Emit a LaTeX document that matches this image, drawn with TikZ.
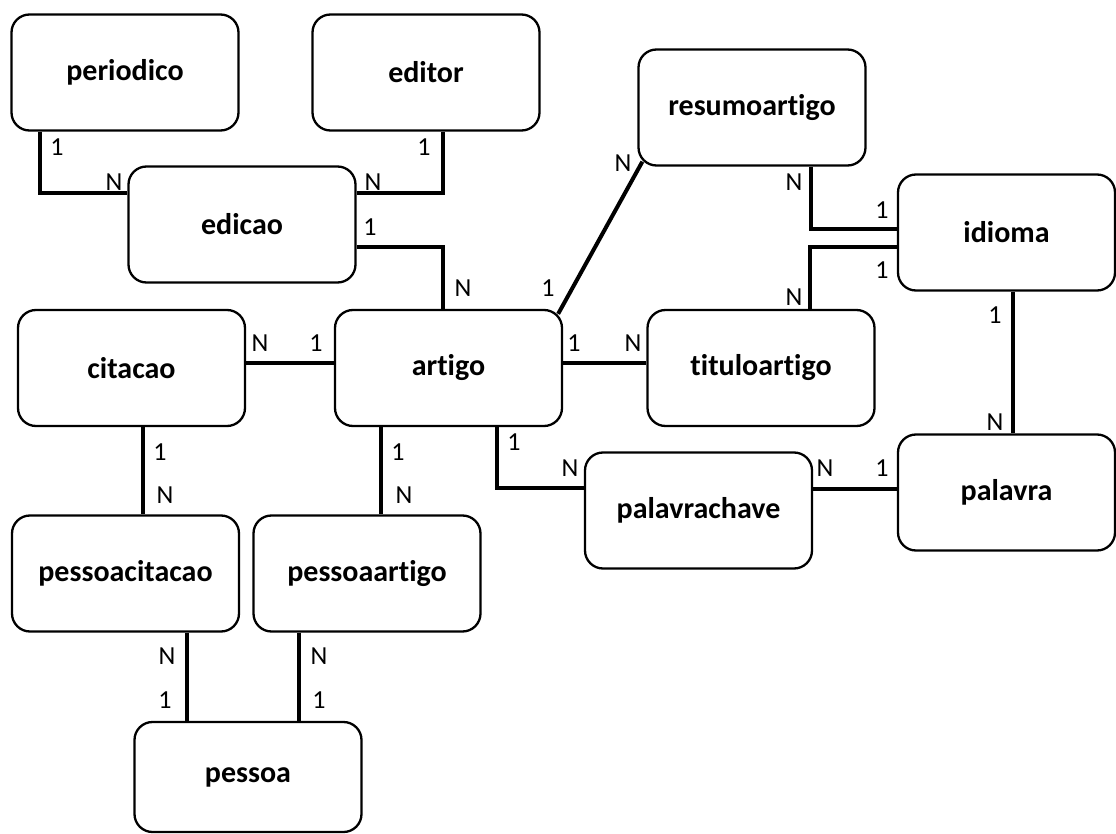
\documentclass[tikz,border=0pt]{standalone}
\usepackage{fontspec}
\setmainfont{Carlito}[Ligatures={NoCommon,NoDiscretionary}]
\usetikzlibrary{positioning}
\usetikzlibrary{calc}

\begin{document}
\begin{tikzpicture}[
  x=1pt, y=-1pt,
  ent/.style={
    rectangle,
    rounded corners=18pt,
    draw=black,
    line width=2.3pt,
    fill=white,
    minimum width=227pt,
    minimum height=116pt,
    inner sep=0pt,
    align=center,
    font=\fontsize{30}{32}\selectfont\bfseries
  },
  rel/.style={line width=4pt, black},
  card/.style={inner sep=0pt, font=\fontsize{26}{28}\selectfont}
]
\useasboundingbox (0,0) rectangle (1116,834);
% entities
\node[ent] (periodico)     at (125, 72.5)  {periodico};
\node[ent] (editor)        at (426, 72.5)  {editor};
\node[ent] (edicao)        at (242, 224.5) {edicao};
\node[ent] (resumoartigo)  at (752, 107.5) {resumoartigo};
\node[ent, minimum width=217pt] (idioma) at (1006.5, 232.5) {idioma};
\node[ent] (citacao)       at (131.5, 368) {citacao};
\node[ent] (artigo)        at (448.5, 368) {artigo};
\node[ent] (tituloartigo)  at (761, 368)   {tituloartigo};
\node[ent] (palavrachave)  at (698.5, 510.5) {palavrachave};
\node[ent, minimum width=217pt] (palavra) at (1006.5, 492.5) {palavra};
\node[ent] (pessoacitacao) at (125.5, 573.5) {pessoacitacao};
\node[ent] (pessoaartigo)  at (367, 573.5) {pessoaartigo};
\node[ent, minimum height=110pt] (pessoa) at (248, 777) {pessoa};
% relationships
\draw[rel] ([xshift=-85pt]periodico.south) |- ([yshift=31.5pt]edicao.west);
\draw[rel] ([xshift=17pt]editor.south) |- ([yshift=31.5pt]edicao.east);
\draw[rel] ([yshift=-22.5pt]edicao.east) -| ([xshift=-5.5pt]artigo.north);
\draw[rel] ([xshift=-5pt,yshift=-5pt]artigo.north east) -- ([xshift=5pt,yshift=5pt]resumoartigo.south west);
\draw[rel] ([xshift=58.5pt]resumoartigo.south) |- ([yshift=3.5pt]idioma.west);
\draw[rel] ([xshift=49pt]tituloartigo.north) |- ([yshift=-14.5pt]idioma.west);
\draw[rel] ([xshift=6.5pt]idioma.south) -- ([xshift=6.5pt]palavra.north);
\draw[rel] ([yshift=5pt]citacao.east) -- ([yshift=5pt]artigo.west);
\draw[rel] ([yshift=5pt]artigo.east) -- ([yshift=5pt]tituloartigo.west);
\draw[rel] ([xshift=48.5pt]artigo.south) |- ([yshift=22.5pt]palavrachave.west);
\draw[rel] ([yshift=21.5pt]palavrachave.east) -- ([yshift=21.5pt]palavrachave.east -| palavra.west);
\draw[rel] ([xshift=11pt]citacao.south) -- ([xshift=11pt]citacao.south |- pessoacitacao.north);
\draw[rel] ([xshift=-67.5pt]artigo.south) -- ([xshift=-67.5pt]artigo.south |- pessoaartigo.north);
\draw[rel] ([xshift=61.5pt]pessoacitacao.south) -- ([xshift=61.5pt]pessoacitacao.south |- pessoa.north);
\draw[rel] ([xshift=-68pt]pessoaartigo.south) -- ([xshift=-68pt]pessoaartigo.south |- pessoa.north);
% cardinalities
\node[card] (c1)  at (57, 147)  {1};
\node[card] (c2)  at (114, 182) {N};
\node[card] (c3)  at (424, 147) {1};
\node[card] (c4)  at (373, 182) {N};
\node[card] (c5)  at (370, 227) {1};
\node[card] (c6)  at (463, 288) {N};
\node[card] (c7)  at (548, 288) {1};
\node[card] (c8)  at (623, 163) {N};
\node[card] (c9)  at (794, 182) {N};
\node[card] (c10) at (882, 210) {1};
\node[card] (c11) at (882, 270) {1};
\node[card] (c12) at (794, 297) {N};
\node[card] (c13) at (995, 315) {1};
\node[card] (c14) at (995, 422) {N};
\node[card] (c15) at (260, 343) {N};
\node[card] (c16) at (316, 343) {1};
\node[card] (c17) at (574, 343) {1};
\node[card] (c18) at (633, 343) {N};
\node[card] (c19) at (514, 442) {1};
\node[card] (c20) at (570, 468) {N};
\node[card] (c21) at (825, 468) {N};
\node[card] (c22) at (882, 468) {1};
\node[card] (c23) at (160, 452) {1};
\node[card] (c24) at (165, 495) {N};
\node[card] (c25) at (398, 452) {1};
\node[card] (c26) at (404, 495) {N};
\node[card] (c27) at (167, 656) {N};
\node[card] (c28) at (165, 700) {1};
\node[card] (c29) at (319, 656) {N};
\node[card] (c30) at (319, 700) {1};
\end{tikzpicture}
\end{document}
